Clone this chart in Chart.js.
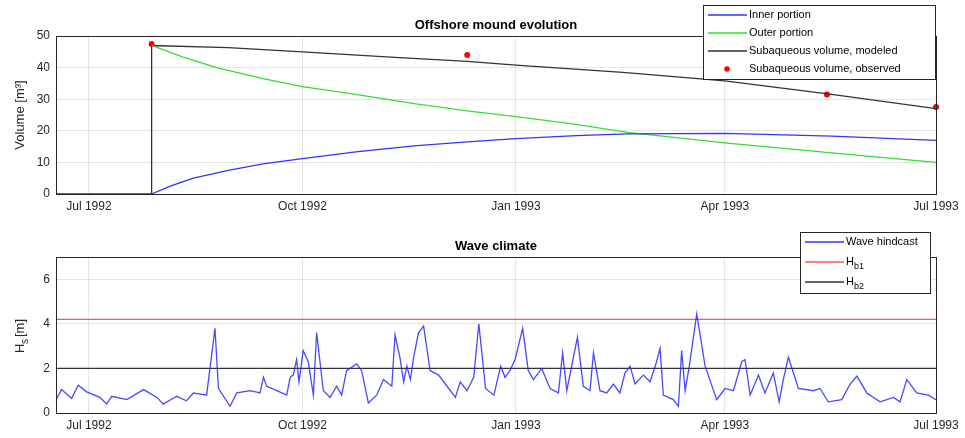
<!DOCTYPE html>
<html><head><meta charset="utf-8">
<script src="https://cdn.jsdelivr.net/npm/chart.js@4.4.1/dist/chart.umd.min.js"></script>
<style>
body{margin:0;background:#fff;width:965px;height:438px;overflow:hidden;position:relative}
canvas{position:absolute;left:0}
</style></head><body>
<div style="position:absolute;left:0;top:0;width:965px;height:230px"><canvas id="top"></canvas></div>
<div style="position:absolute;left:0;top:230px;width:965px;height:208px"><canvas id="bot"></canvas></div>
<script>
// x values are days since 1 Jul 1992
const tickDays = [0, 92, 184, 274, 365];
const tickLabels = ["Jul 1992", "Oct 1992", "Jan 1993", "Apr 1993", "Jul 1993"];

const modeledDays = [-14.2, 27, 27, 60, 92, 130, 163, 184, 230, 274, 320, 365];
const modeledVals = [0, 0, 47, 46.3, 45, 43.3, 42, 40.8, 38.5, 35.8, 31.5, 27];
const outerDays = [27, 40, 55, 75, 92, 115, 140, 163, 184, 210, 232, 274, 320, 365];
const outerVals = [47, 43.5, 40, 36.5, 34, 31.5, 28.6, 26.3, 24.5, 22, 19.5, 16.2, 13, 10];
const innerDays = [27, 35, 45, 60, 75, 92, 115, 140, 163, 184, 210, 232, 274, 320, 365];
const innerVals = [0, 2.5, 5, 7.5, 9.5, 11.2, 13.3, 15.2, 16.5, 17.5, 18.5, 19, 19.2, 18.3, 17];
const obsDays = [27, 163, 318, 365];
const obsVals = [47.5, 44, 31.5, 27.5];

const hsDays = [-14.7,-11.8,-9.6,-7.5,-4.6,-1,4.7,7.6,9.8,16.3,23.5,29.3,32,37.8,42,45,50.7,54.3,55.8,60.8,63.7,69.5,73.7,75.2,76.6,80.9,85.2,86.7,88,89.5,90.5,92.3,94.5,96.7,98.1,101,103.9,106.7,108.9,111,115.4,117.5,120.4,124,126.9,130.5,131.9,134,135.6,137,138.5,139.9,142,144.2,147,150.7,154.3,157.9,160,162.9,165.8,168,170.9,174.5,177.4,179.3,181.4,183.6,186.9,189.3,191.5,195.1,198.7,202.3,204.1,205.9,210.5,213,215.9,217.4,220.2,223.1,226,228.8,231,233.2,235.3,238.9,241.8,244.6,246.1,247.5,251.8,254,255.4,256.9,258.7,261.9,265.5,270.5,274.1,277.7,281.3,282.7,284.9,288.5,291.3,294.9,297.4,299.2,301.4,305.7,312.2,315,318.6,324.4,328,330.9,335.2,340.9,346.7,349.5,352.4,356.7,361.7,365];
const hsVals = [0.5,1.05,0.85,0.65,1.25,0.95,0.7,0.4,0.75,0.6,1.05,0.7,0.4,0.75,0.55,0.9,0.8,3.8,1.1,0.3,0.9,1.0,0.9,1.6,1.2,1.0,0.8,1.6,1.7,2.4,1.4,2.8,2.3,0.8,3.6,1.0,0.7,1.2,0.8,1.9,2.2,1.9,0.45,0.8,1.5,1.2,3.5,2.5,1.4,2.1,1.5,2.5,3.6,3.9,1.9,1.7,1.2,0.7,1.4,1.0,1.6,4.0,1.1,0.8,2.1,1.6,1.9,2.4,3.8,1.9,1.5,2.0,1.1,0.9,2.7,1.0,3.4,1.2,1.0,2.7,1.0,0.9,1.3,0.9,1.8,2.1,1.3,1.7,1.4,2.3,2.9,0.8,0.6,0.3,2.8,1.0,2.1,4.45,2.1,0.6,1.1,1.0,2.3,2.4,0.8,1.7,0.9,1.8,0.5,1.5,2.5,1.1,1.0,1.1,0.5,0.6,1.3,1.65,0.9,0.5,0.7,0.5,1.5,0.9,0.8,0.6];
const hb1 = 4.2, hb2 = 2.0;
const volTicks = [0, 10, 20, 30, 40, 50];
const hsTicks = [0, 2, 4, 6];

const pts = (xs, ys) => xs.map((x, i) => ({x: x, y: ys[i]}));
const FONT = "Liberation Sans, Arial, sans-serif";
const XMIN = -14.2, XMAX = 365;

function xAxis(h) {
  return {
    type: "linear", min: XMIN, max: XMAX,
    afterBuildTicks: a => { a.ticks = tickDays.map(v => ({value: v})); },
    afterFit: a => { a.height = h; },
    ticks: { callback: v => tickLabels[tickDays.indexOf(v)], color: "#262626", font: {family: FONT, size: 12}, maxRotation: 0, autoSkip: false, padding: 5 },
    grid: { color: "rgba(0,0,0,0.1)", drawTicks: false },
    border: { color: "#262626" }
  };
}
function yAxis(min, max, tv) {
  return {
    min: min, max: max,
    afterBuildTicks: a => { a.ticks = tv.map(v => ({value: v})); },
    afterFit: a => { a.width = 56; },
    ticks: { color: "#262626", font: {family: FONT, size: 12}, padding: 6 },
    grid: { color: "rgba(0,0,0,0.1)", drawTicks: false },
    border: { color: "#262626" }
  };
}

// title, y label, legend drawn MATLAB style
function decor(title, ylabel, legend) {
  return {
    id: "decor",
    afterDraw(chart) {
      const c = chart.ctx, a = chart.chartArea;
      c.save();
      c.strokeStyle = "#262626"; c.lineWidth = 1;
      c.strokeRect(a.left + 0.5, a.top + 0.5, a.right - a.left, a.bottom - a.top);
      c.fillStyle = "#000"; c.font = "bold 13px " + FONT; c.textAlign = "center"; c.textBaseline = "bottom";
      c.fillText(title, (a.left + a.right) / 2, a.top - 4);
      c.translate(20, (a.top + a.bottom) / 2); c.rotate(-Math.PI / 2);
      c.fillStyle = "#262626"; c.textBaseline = "middle";
      ylabel(c);
      c.restore();
      c.save();
      const L = legend;
      c.fillStyle = "#fff"; c.fillRect(L.x, L.y, L.w, L.h);
      c.strokeStyle = "#262626"; c.strokeRect(L.x + 0.5, L.y + 0.5, L.w, L.h);
      L.items.forEach((it, i) => {
        const yy = L.y + 10 + i * L.dy;
        if (it.dot) {
          c.fillStyle = it.color; c.beginPath(); c.arc(L.x + 24, yy, 2.8, 0, 7); c.fill();
        } else {
          c.strokeStyle = it.color; c.lineWidth = 1.3; c.beginPath(); c.moveTo(L.x + 5, yy); c.lineTo(L.x + 44, yy); c.stroke();
        }
        c.fillStyle = "#000"; c.font = "11px " + FONT; c.textAlign = "left"; c.textBaseline = "middle";
        c.fillText(it.text, L.x + 46, yy);
        if (it.sub) {
          const w = c.measureText(it.text).width;
          c.font = "9px " + FONT; c.fillText(it.sub, L.x + 46 + w, yy + 5);
        }
      });
      c.restore();
    }
  };
}

const lineDs = (label, data, color) => ({ label, data, borderColor: color, borderWidth: 1.3, pointRadius: 0, showLine: true, fill: false, tension: 0 });

new Chart(document.getElementById("top"), {
  type: "scatter",
  data: { datasets: [
    lineDs("Inner portion", pts(innerDays, innerVals), "#3333ff"),
    lineDs("Outer portion", pts(outerDays, outerVals), "#33dd33"),
    lineDs("Subaqueous volume, modeled", pts(modeledDays, modeledVals), "#333333"),
    { label: "Subaqueous volume, observed", data: pts(obsDays, obsVals), backgroundColor: "#ff0000", borderWidth: 0, pointRadius: 3, clip: false }
  ]},
  options: {
    animation: false, responsive: true, maintainAspectRatio: false,
    layout: { padding: { left: 0, right: 29, top: 36, bottom: 0 } },
    plugins: { legend: { display: false }, tooltip: { enabled: false } },
    scales: { x: xAxis(36), y: yAxis(0, 50, volTicks) }
  },
  plugins: [decor("Offshore mound evolution", c => {
    c.font = "13px " + FONT; c.textAlign = "center"; c.fillText("Volume [m³]", 0, 0);
  }, { x: 703, y: 5, w: 232, h: 74, dy: 18, items: [
    { text: "Inner portion", color: "#3333ff" },
    { text: "Outer portion", color: "#33dd33" },
    { text: "Subaqueous volume, modeled", color: "#333333" },
    { text: "Subaqueous volume, observed", color: "#ff0000", dot: true }
  ]})]
});

new Chart(document.getElementById("bot"), {
  type: "scatter",
  data: { datasets: [
    lineDs("Wave hindcast", pts(hsDays, hsVals), "rgba(40,40,255,0.85)"),
    lineDs("Hb1", pts([XMIN, XMAX], [hb1, hb1]), "#ff5555"),
    lineDs("Hb2", pts([XMIN, XMAX], [hb2, hb2]), "#333333")
  ]},
  options: {
    animation: false, responsive: true, maintainAspectRatio: false,
    layout: { padding: { left: 0, right: 29, top: 27, bottom: 0 } },
    plugins: { legend: { display: false }, tooltip: { enabled: false } },
    scales: { x: xAxis(25), y: yAxis(0, 7, hsTicks) }
  },
  plugins: [decor("Wave climate", c => {
    c.font = "13px " + FONT; c.textAlign = "left";
    c.fillText("H", -18, 0); c.font = "10px " + FONT; c.fillText("s", -9, 5); c.font = "13px " + FONT; c.fillText("[m]", -2, 0);
  }, { x: 800, y: 2, w: 130, h: 61, dy: 20, items: [
    { text: "Wave hindcast", color: "#3333ff" },
    { text: "H", sub: "b1", color: "#ff5555" },
    { text: "H", sub: "b2", color: "#333333" }
  ]})]
});
</script>
</body></html>
